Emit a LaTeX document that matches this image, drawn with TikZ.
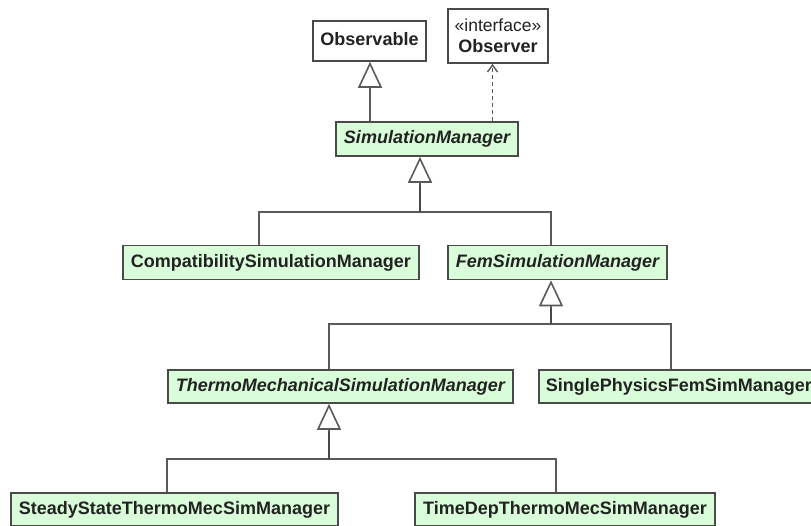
\documentclass[tikz,border=0pt]{standalone}
\usepackage{fontspec}
\setmainfont{Liberation Sans}
\usetikzlibrary{arrows.meta}
\definecolor{boxfill}{HTML}{D9FCD9}
\definecolor{boxline}{HTML}{4A4A4A}
\definecolor{wire}{HTML}{5A5A5A}
\definecolor{ink}{HTML}{222222}

\begin{document}
\begin{tikzpicture}[x=1pt,y=-1pt,
  cls/.style={draw=boxline, line width=1.6pt, text=ink,
    font=\fontsize{18}{20}\selectfont\bfseries,
    inner xsep=7pt, inner ysep=0pt, text height=13pt, text depth=4pt},
  classbox/.style={cls, fill=boxfill},
  plainbox/.style={cls, fill=white},
  abstract/.style={font=\fontsize{18}{20}\selectfont\bfseries\itshape},
  link/.style={draw=wire, line width=1.7pt, line join=miter},
  stem/.style={draw=boxline, line width=2.2pt},
  gentip/.style={-{Triangle[width=24pt,length=26pt,fill=white,line width=1.6pt]}},
  realize/.style={draw=wire, line width=1.6pt, dash pattern=on 4pt off 3pt,
    -{Straight Barb[length=7pt,width=10pt,line width=1.4pt]}},
]
\useasboundingbox (0,0) rectangle (811,525);

% classes
\node[plainbox, minimum width=113pt, minimum height=40pt] (obs) at (369.5,41) {Observable};
\node[cls, fill=white, minimum width=100pt, minimum height=54pt, text height=, text depth=,
      align=center, inner ysep=3pt] (obsr) at (498,36)
  {{\fontsize{17.5}{19}\selectfont\mdseries «interface»}\\[1pt]Observer};
\node[classbox, abstract, minimum width=182pt, minimum height=34pt] (sm) at (427,139) {SimulationManager};
\node[classbox, minimum width=296pt, minimum height=34pt] (compat) at (270.8,262.5) {CompatibilitySimulationManager};
\node[classbox, abstract, minimum width=219pt, minimum height=34pt] (fem) at (557.5,262.5) {FemSimulationManager};
\node[classbox, abstract, minimum width=345pt, minimum height=33pt] (thermo) at (340.4,386.5) {ThermoMechanicalSimulationManager};
\node[classbox, anchor=west, minimum height=33pt] (single) at (538,386.5) {SinglePhysicsFemSimManager};
\node[classbox, minimum width=327pt, minimum height=33pt] (steady) at (174.5,509.5) {SteadyStateThermoMecSimManager};
\node[classbox, minimum width=300pt, minimum height=33pt] (timedep) at (565,509.5) {TimeDepThermoMecSimManager};

% branch points of the generalization trees
\coordinate (jsm) at (420,212);
\coordinate (bsmL) at (259,212);
\coordinate (bsmR) at (551,212);
\coordinate (jfem) at (551,324);
\coordinate (bfemL) at (329,324);
\coordinate (bfemR) at (671,324);
\coordinate (jth) at (329,459);
\coordinate (bthL) at (167,459);
\coordinate (bthR) at (556,459);
\coordinate (aobs) at (370,0);
\coordinate (aobsr) at (492.5,0);

% SimulationManager extends Observable, realizes Observer
\draw[link, gentip] (sm.north -| aobs) -- (obs.south -| aobs);
\draw[realize] (sm.north -| aobsr) -- (obsr.south -| aobsr);

% SimulationManager subclasses
\draw[link] (compat.north -| bsmL) -- (bsmL) -- (bsmR) -- (fem.north -| bsmR);
\draw[stem] (jsm) -- ([yshift=-28pt]sm.south -| jsm);
\draw[link, gentip] ([yshift=-28pt]sm.south -| jsm) -- (sm.south -| jsm);

% FemSimulationManager subclasses
\draw[link] (thermo.north -| bfemL) -- (bfemL) -- (bfemR) -- (single.north -| bfemR);
\draw[stem] (jfem) -- ([yshift=-28pt]fem.south -| jfem);
\draw[link, gentip] ([yshift=-28pt]fem.south -| jfem) -- (fem.south -| jfem);

% ThermoMechanicalSimulationManager subclasses
\draw[link] (steady.north -| bthL) -- (bthL) -- (bthR) -- (timedep.north -| bthR);
\draw[stem] (jth) -- ([yshift=-28pt]thermo.south -| jth);
\draw[link, gentip] ([yshift=-28pt]thermo.south -| jth) -- (thermo.south -| jth);
\end{tikzpicture}
\end{document}
